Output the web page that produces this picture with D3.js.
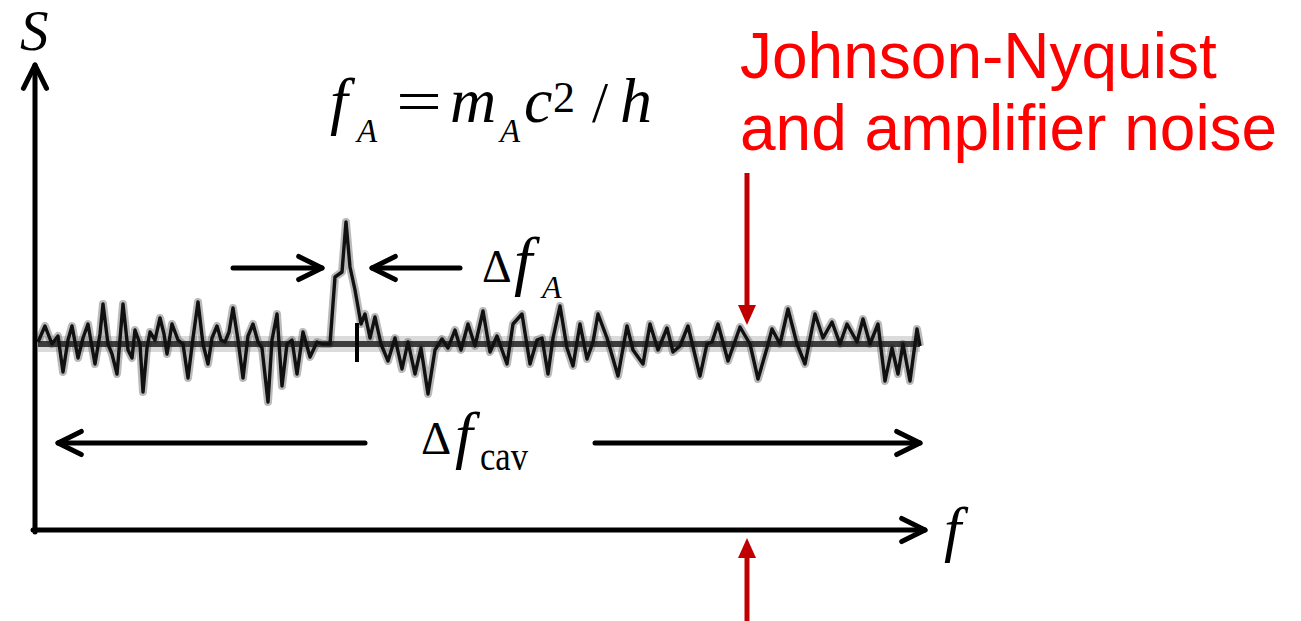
<!DOCTYPE html>
<html><head><meta charset="utf-8">
<script src="https://cdn.jsdelivr.net/npm/d3@7/dist/d3.min.js"></script>
<style>html,body{margin:0;padding:0;background:#fff;overflow:hidden}</style>
</head><body><svg id="c" width="1301" height="621"></svg>
<script>
// ---- data (frequency f and spectral power S, arbitrary units) ----
const fTrace = [3,10,17,23,28,33,37,43,48,53,60,65,68,73,77,82,88,93,97,100,105,108,112,115,120,125,129,132,137,143,148,153,158,163,168,173,177,182,186,190,194,198,203,208,213,218,223,227,
233,237,242,247,252,257,262,268,275,282,287,293,295,300,307,311,315,320,326,330,335,340,346,353,360,367,373,380,386,393,400,407,413,420,426,433,440,448,
455,462,472,478,487,495,502,507,513,518,525,532,538,545,552,558,563,572,583,592,598,608,615,623,632,638,645,653,665,
672,677,683,693,699,705,715,723,732,737,745,753,762,770,780,788,797,805,812,822,828,835,843,850,857,863,868,875,882,885];
const sTrace = [188,204,186,194,158,190,204,172,192,206,166,196,226,186,176,156,226,180,172,200,186,138,182,198,190,212,196,176,206,190,186,152,192,228,186,166,192,204,190,188,198,222,190,152,194,206,188,182,
128,190,216,144,186,190,156,198,173,188,186,186,186,253,258,308,263,240,206,216,192,213,186,169,192,161,188,156,182,136,180,191,182,200,180,206,184,219,
178,194,166,206,216,166,190,192,156,192,224,182,164,206,171,188,216,192,154,204,180,166,206,180,202,178,184,204,154,
186,188,206,169,186,203,186,151,182,201,186,221,186,166,216,192,208,186,206,188,211,186,206,149,182,156,186,149,201,184];
const baselineS = 186;
const traceRange = [3, 885];
const fDomain = [0, 890];
const sDomain = [0, 465];
const axionF = 322;            // marker under the axion peak
const markerS = [168, 207];
const widthArrowS = 262;       // level of the Δf_A arrows
const widthArrowsF = [[198, 287], [425, 337]];
const cavArrowS = 87;          // level of the Δf_cav arrows
const cavArrowsF = [[330, 23], [560, 885]];
const noiseF = 712;            // red noise pointers
const noiseArrowsS = [[357, 205], [-91, -8]];
const noiseLabel = ["Johnson-Nyquist", "and amplifier noise"];

// ---- scales ----
const x = d3.scaleLinear().domain(fDomain).range([35, 925]);
const y = d3.scaleLinear().domain(sDomain).range([530, 65]);
const svg = d3.select("#c");

function chevronArrow(x1, y1, x2, y2, w) {
  const g = svg.append("g").attr("stroke", "#000").attr("stroke-width", w).attr("fill", "none")
    .attr("stroke-linecap", "round").attr("stroke-linejoin", "round");
  g.append("line").attr("x1", x1).attr("y1", y1).attr("x2", x2).attr("y2", y2);
  const a = Math.atan2(y2 - y1, x2 - x1), L = 26, s = 0.46;
  const p = [[x2 - L * Math.cos(a - s), y2 - L * Math.sin(a - s)], [x2, y2], [x2 - L * Math.cos(a + s), y2 - L * Math.sin(a + s)]];
  g.append("path").attr("d", d3.line()(p));
}
function redArrow(x1, y1, x2, y2) {
  const col = "#c00000";
  const dir = Math.sign(y2 - y1), H = 20, W = 9;
  svg.append("line").attr("x1", x1).attr("y1", y1).attr("x2", x2).attr("y2", y2 - dir * H)
    .attr("stroke", col).attr("stroke-width", 5);
  svg.append("path").attr("d", d3.line()([[x2 - W, y2 - dir * H], [x2, y2], [x2 + W, y2 - dir * H]]) + "Z")
    .attr("fill", col);
}

// ---- trace ----
const pts = fTrace.map((f, i) => [x(f), y(sTrace[i])]);
const line = d3.line();
svg.append("line").attr("x1", x(traceRange[0])).attr("x2", x(traceRange[1]))
  .attr("y1", y(baselineS)).attr("y2", y(baselineS))
  .attr("stroke", "#999").attr("stroke-width", 16).attr("opacity", 0.35);
svg.append("path").attr("d", line(pts)).attr("fill", "none")
  .attr("stroke", "#666").attr("stroke-width", 8).attr("opacity", 0.45).attr("stroke-linejoin", "round");
svg.append("line").attr("x1", x(traceRange[0])).attr("x2", x(traceRange[1]))
  .attr("y1", y(baselineS)).attr("y2", y(baselineS))
  .attr("stroke", "#222").attr("stroke-width", 6).attr("opacity", 0.85);
svg.append("path").attr("d", line(pts)).attr("fill", "none")
  .attr("stroke", "#111").attr("stroke-width", 3.4).attr("stroke-linejoin", "round");
svg.append("line").attr("x1", x(axionF)).attr("x2", x(axionF))
  .attr("y1", y(markerS[0])).attr("y2", y(markerS[1])).attr("stroke", "#000").attr("stroke-width", 4);

// ---- axes ----
chevronArrow(x(0), y(0) + 2, x(0), y(sDomain[1]), 5);
chevronArrow(x(0) - 2, y(0), x(fDomain[1]), y(0), 5);

// ---- annotation arrows ----
widthArrowsF.forEach(d => chevronArrow(x(d[0]), y(widthArrowS), x(d[1]), y(widthArrowS), 5));
cavArrowsF.forEach(d => chevronArrow(x(d[0]), y(cavArrowS), x(d[1]), y(cavArrowS), 5));
noiseArrowsS.forEach(d => redArrow(x(noiseF), y(d[0]), x(noiseF), y(d[1])));

// ---- texts ----
const serif = "'Liberation Serif','Times New Roman',serif";
function t(str, px, py, size, italic, len) {
  const e = svg.append("text").attr("x", px).attr("y", py).text(str)
    .attr("font-family", serif).attr("font-size", size).attr("fill", "#000")
    .attr("font-style", italic ? "italic" : "normal");
  if (len) e.attr("textLength", len).attr("lengthAdjust", "spacingAndGlyphs");
  return e;
}
t("S", 20, 50, 57, true);
t("f", 944, 550, 62, true);
// f_A = m_A c^2 / h
t("f", 330, 122, 64, true);
t("A", 357, 142, 33, true);
t("=", 396, 122, 62, false, 46);
t("m", 450, 122, 64, true);
t("A", 500, 142, 33, true);
t("c", 524, 122, 64, true);
t("2", 553, 112, 44, false);
t("/", 592, 122, 58, false);
t("h", 620, 122, 64, true);
// Δf_A
t("Δ", 482, 282, 46, false);
t("f", 514, 283, 66, true);
t("A", 542, 298, 32, true);
// Δf_cav
t("Δ", 421, 454, 47, false);
t("f", 455, 456, 64, true);
t("cav", 480, 470, 42, false, 48);

// red label
const lab = svg.append("text").attr("font-family", "'Liberation Sans',Arial,sans-serif")
  .attr("font-size", 64).attr("fill", "#ff0000");
noiseLabel.forEach((s, i) => lab.append("tspan").attr("x", 740).attr("y", 78 + i * 72).text(s));
</script></body></html>
